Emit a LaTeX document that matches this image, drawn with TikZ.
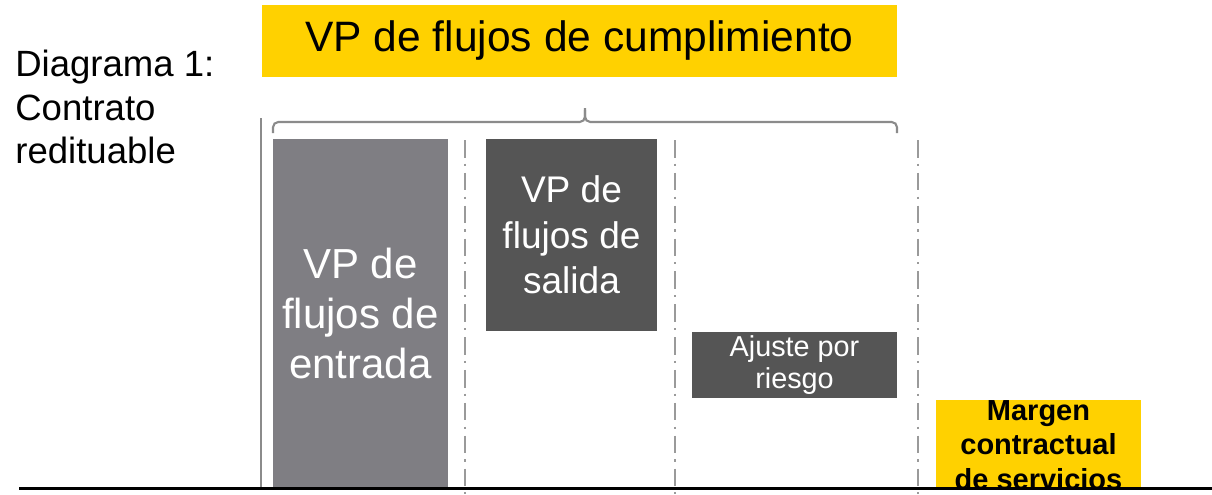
\documentclass[tikz,border=0pt]{standalone}
\usepackage{fontspec}
\setmainfont{Liberation Sans}
\usepackage{xcolor}
\definecolor{amarillo}{HTML}{FFD100}
\definecolor{grisclaro}{HTML}{7F7E83}
\definecolor{grisoscuro}{HTML}{555555}
\definecolor{grislinea}{HTML}{9A9A9A}
\begin{document}
\begin{tikzpicture}[x=0.02cm,y=-0.02cm,line cap=butt,
  caja/.style={inner sep=0pt,align=center,text=white},
  separador/.style={grislinea,line width=1.1pt,dash pattern=on 10pt off 3.5pt on 1.2pt off 4pt}]
\useasboundingbox (0,0) rectangle (1212,494);
\node[anchor=west,align=left,inner sep=0pt,font=\fontsize{20.8}{24.9}\selectfont] (diagrama) at (15,107) {Diagrama 1:\\Contrato\\redituable};
\node[fill=amarillo,inner sep=0pt,minimum width=12.7cm,minimum height=1.44cm,font=\fontsize{24.2}{29}\selectfont] (titulo) at (579.5,41) {VP de flujos de cumplimiento};
\draw[grislinea!90!black,line width=1.1pt] (261,118) -- (261,488);
\draw[grislinea!90!black,line width=1.2pt,rounded corners=3pt] (273,133) -- (273,122) -- (585,122) -- (585,108);
\draw[grislinea!90!black,line width=1.2pt,rounded corners=3pt] (585,110) -- (585,122) -- (897,122) -- (897,133);
\node[caja,fill=grisclaro,minimum width=3.5cm,minimum height=6.98cm,font=\fontsize{23.9}{28.3}\selectfont] (entrada) at (360.5,313.5) {VP de\\flujos de\\entrada};
\node[caja,fill=grisoscuro,minimum width=3.42cm,minimum height=3.84cm,font=\fontsize{21.1}{26}\selectfont] (salida) at (571.5,235) {VP de\\flujos de\\salida};
\node[caja,fill=grisoscuro,minimum width=4.1cm,minimum height=1.32cm,font=\fontsize{16.4}{18.7}\selectfont] (ajuste) at (794.5,365) {Ajuste por\\riesgo};
\begin{scope}
\clip (936,399) rectangle (1141,489);
\node[caja,text=black,fill=amarillo,minimum width=4.1cm,minimum height=1.82cm,font=\fontsize{16.5}{19.8}\bfseries\selectfont] (margen) at (1038.5,445) {Margen\\contractual\\de servicios};
\end{scope}
\draw[separador] (465,140) -- (465,494);
\draw[separador] (675,140) -- (675,494);
\draw[separador] (918,140) -- (918,494);
\draw[black,line width=1.7pt] (19,488) -- (1212,488);
\end{tikzpicture}
\end{document}
